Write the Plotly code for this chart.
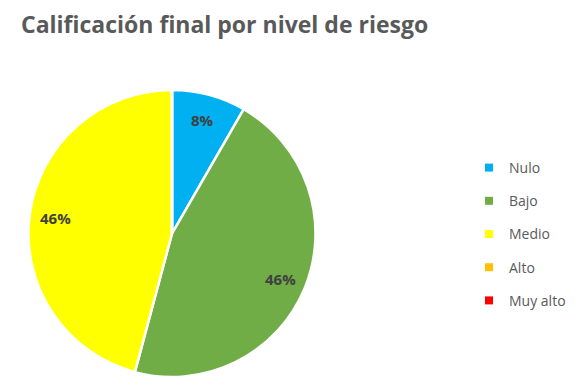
import math
import plotly.graph_objects as go

categories = ["Nulo", "Bajo", "Medio", "Alto", "Muy alto"]
values = [2, 11, 11, 0, 0]
colors = ["#00B0F0", "#70AD47", "#FFFF00", "#FFC000", "#FF0000"]

W, H = 576, 389
CX, CY, R = 172, 233.5, 143.5  # pie centre / radius in pixels

total = sum(values)

fig = go.Figure()
fig.add_trace(go.Pie(
    labels=categories,
    values=values,
    textinfo="none",
    marker=dict(colors=colors, line=dict(color="white", width=2.5)),
    sort=False,
    direction="clockwise",
    rotation=0,
    showlegend=False,
    domain=dict(x=[(CX - R) / W, (CX + R) / W], y=[1 - (CY + R) / H, 1 - (CY - R) / H]),
    hoverinfo="label+percent",
))

# percentage labels placed along each slice's mid-angle
cum = 0
for v in values:
    if v > 0:
        mid = (cum + v / 2) / total * 2 * math.pi
        r = 0.82 * R
        px = CX + r * math.sin(mid)
        py = CY - r * math.cos(mid)
        fig.add_annotation(
            x=px / W, y=1 - py / H, xref="paper", yref="paper",
            xanchor="center", yanchor="middle",
            text=f"{round(v / total * 100)}%", showarrow=False,
            font=dict(family="Open Sans", size=15, color="#404040", weight="bold"),
        )
    cum += v

for c, col in zip(categories, colors):
    fig.add_trace(go.Scatter(
        x=[None], y=[None], mode="markers", name=c,
        legendgroup=c,
        marker=dict(symbol="square", size=8, color=col),
    ))

fig.update_layout(
    width=W, height=H,
    margin=dict(l=0, r=0, t=0, b=0),
    paper_bgcolor="white", plot_bgcolor="white",
    xaxis=dict(visible=False), yaxis=dict(visible=False),
    title=dict(text="Calificación final por nivel de riesgo",
               x=21 / W, xanchor="left", y=1 - 25 / H, yanchor="middle",
               font=dict(family="Open Sans", size=23, color="#595959", weight="bold")),
    legend=dict(x=469 / W, xanchor="left", y=1 - 234 / H, yanchor="middle",
                tracegroupgap=12, font=dict(family="Open Sans", size=14, color="#595959"),
                bgcolor="rgba(0,0,0,0)", itemwidth=30),
)

fig.write_html("out.html")
